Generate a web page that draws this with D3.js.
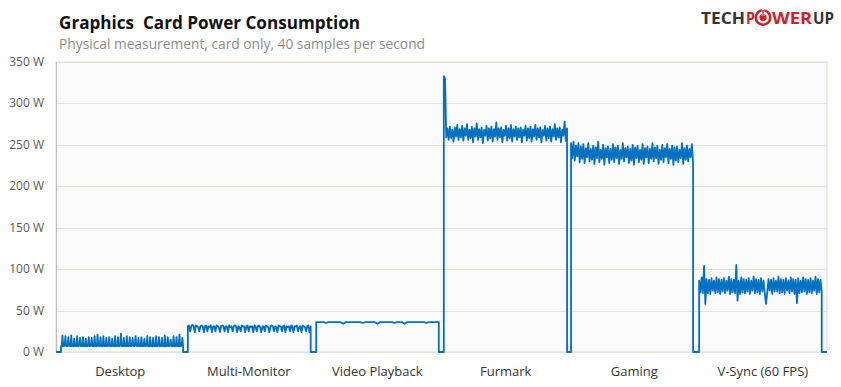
<!DOCTYPE html>
<html><head><meta charset="utf-8">
<script src="https://cdn.jsdelivr.net/npm/d3@7"></script>
<style>
html,body{margin:0;padding:0;background:#fff;}
svg{display:block;}
text{font-family:"Open Sans","Noto Sans",sans-serif;}
</style></head>
<body>
<svg id="chart" width="841" height="387"></svg>
<script>
// ---------- data ----------
const categories = ["Desktop","Multi-Monitor","Video Playback","Furmark","Gaming","V-Sync (60 FPS)"];
const yTicks = [0,50,100,150,200,250,300,350];
// measurement window of each test, in seconds within a 100 s slot
const testStart = [3.9, 2.6, 2.5, 1.8, 0.8, 0.5];
const testEnd   = [98.9, 98.2, 97.9, 97.7, 95.8, 95.9];

const desktopW = [7,7,20,7, 7,8,19,7, 7,7,18,8, 7,7,20,7, 8,7,16,7, 7,7,19,7, 7,8,17,7, 7,7,18,7, 8,7,16,7, 7,7,18,7,
                  7,8,17,7, 7,7,19,7, 7,7,21,8, 7,7,18,7, 8,7,19,7, 7,7,17,7, 7,8,18,7, 7,7,16,7, 8,7,19,7, 7,7,18,7,
                  7,8,22,7, 7,7,17,7, 8,7,19,7, 7,7,18,7, 7,8,17,7, 7,7,19,8, 7,7,17,7, 8,7,18,7, 7,7,16,7, 7,8,19,7,
                  7,7,18,7, 8,7,17,7, 7,7,19,7, 7,8,18,7, 7,7,17,7, 8,7,20,7, 7,7,18,7, 7,8,15,7, 7,7,19,7, 8,7,18,7,
                  7,7,21,7, 7,8,17,7];
const multiMonW = [31,32,25,31,33,31,24,32,31,30,25,31,32,31,24,31,32,25,31,30,32,24,31,31,25,32,31,30,24,31,32,31,25,31,31,24,32,30,31,25,31,32,31,24,31,30,25,32,31,31,24,31,32,25,31,30,31,24,32,31,25,31,32,30,24,31,31,25,32,31,30,24,31,32,31,25,31,30,24,32,31,31,25,31,32,24,31,30,31,25,32,31,24,31,31,32,25,30,31,24,32,31,30,25,31,32,24,31];
const videoW = [36,36,36,36,35,36,36,36,36,36,36,34,36,36,36,36,36,36,36,35,36,36,36,36,36,34,36,36,36,36,36,36,35,36,36,36,34,36,36,36,36,36,36,36,36,35,36,36,36,36,36];
const furmarkW = [333,330,259,270,256,272,258,268,254,271,260,274,256,269,259,273,255,270,261,275,256,268,258,272,253,270,260,276,256,269,259,271,252,268,261,273,255,270,258,272,254,269,260,277,256,270,259,271,253,268,261,273,255,270,258,274,254,269,260,272,256,270,259,271,253,268,261,273,255,270,258,272,254,269,260,274,256,270,259,271,253,268,261,273,255,270,258,272,254,269,260,275,256,270,259,271,253,268,261,278,255,270];
const gamingW = [252,234,254,231,249,236,252,229,248,233,251,228,246,235,252,230,245,232,249,227,247,234,254,229,244,233,250,226,246,235,248,228,245,232,251,229,247,234,249,227,244,233,252,230,246,235,248,228,245,231,250,226,247,234,249,229,244,232,251,227,246,235,248,228,245,233,252,230,247,234,249,227,244,232,250,229,246,235,251,228,245,233,249,226,247,231,248,229,244,234,252,227,246,232,249,230,245,235,251,228];
const vsyncW = [86,72,90,71,104,58,88,71,87,70,89,74,86,71,90,72,88,70,87,73,89,71,86,74,91,70,88,72,87,71,105,62,86,70,90,72,88,71,87,73,89,70,86,74,91,71,88,72,87,70,89,73,86,71,58,72,88,74,87,70,89,73,86,73,91,71,88,72,87,70,89,74,86,71,90,73,88,70,87,59,89,71,86,72,90,73,88,70,87,72,89,71,86,74,91,70,88,72,87,73];
const seriesW = [desktopW, multiMonW, videoW, furmarkW, gamingW, vsyncW];

// ---------- layout ----------
const svg = d3.select("#chart");
const L = 56, R = 827, T = 62, B = 352;
const blue = "#0070c0";

const x = d3.scaleBand().domain(categories).range([L, R]).paddingInner(0).paddingOuter(0);
const y = d3.scaleLinear().domain([0, 350]).range([B, T]);
const tWithin = d3.scaleLinear().domain([0, 100]).range([0, x.bandwidth()]);

// plot background
svg.append("rect").attr("x", L).attr("y", T).attr("width", R - L).attr("height", B - T)
  .attr("fill", "#fafafa").attr("stroke", "#e2ddcc").attr("stroke-width", 1);

// grid
svg.append("g").selectAll("line").data(yTicks).join("line")
  .attr("x1", L).attr("x2", R)
  .attr("y1", d => Math.round(y(d)) + 0.5).attr("y2", d => Math.round(y(d)) + 0.5)
  .attr("stroke", "#e6e1d2").attr("stroke-width", 1);

// left axis line
svg.append("line").attr("x1", L + 0.5).attr("x2", L + 0.5).attr("y1", T).attr("y2", B + 1)
  .attr("stroke", "#bdbdbd");

// y labels
svg.append("g").selectAll("text").data(yTicks).join("text")
  .attr("x", 44).attr("y", d => y(d) + 4)
  .attr("text-anchor", "end").attr("font-size", 12).attr("fill", "#595959")
  .text(d => d + " W");

// x labels
svg.append("g").selectAll("text").data(categories).join("text")
  .attr("x", d => x(d) + x.bandwidth() / 2).attr("y", 376)
  .attr("text-anchor", "middle").attr("font-size", 13).attr("fill", "#333")
  .text(d => d);

// build line points
const pts = [];
pts.push([L, 0]);
categories.forEach((c, i) => {
  const vals = seriesW[i];
  const s = x(c) + tWithin(testStart[i]);
  const e = x(c) + tWithin(testEnd[i]);
  const xi = d3.scaleLinear().domain([0, vals.length - 1]).range([s, e]);
  pts.push([s, 0]);
  vals.forEach((v, k) => pts.push([xi(k), v]));
  pts.push([e, 0]);
});
pts.push([R, 0]);

const line = d3.line().x(d => d[0]).y(d => y(d[1]));
svg.append("path").attr("d", line(pts))
  .attr("fill", "none").attr("stroke", blue).attr("stroke-width", 1.8).attr("stroke-linejoin", "round");

// title
svg.append("text").attr("x", 59).attr("y", 29).attr("font-size", 18).attr("font-weight", "bold")
  .attr("fill", "#111").attr("textLength", 301).attr("lengthAdjust", "spacingAndGlyphs")
  .attr("style", "white-space:pre")
  .text("Graphics  Card Power Consumption");
svg.append("text").attr("x", 59).attr("y", 49).attr("font-size", 14)
  .attr("fill", "#8c8c8c").attr("textLength", 366).attr("lengthAdjust", "spacingAndGlyphs")
  .text("Physical measurement, card only, 40 samples per second");

// logo
const logo = svg.append("g");
logo.append("text").attr("x", 701).attr("y", 23.5).attr("font-size", 15.5).attr("font-weight", "bold")
  .attr("fill", "#333").attr("textLength", 44).attr("lengthAdjust", "spacingAndGlyphs").text("TECH");
logo.append("text").attr("x", 746).attr("y", 23.5).attr("font-size", 15.5).attr("font-weight", "bold")
  .attr("fill", "#d32027").attr("textLength", 9).attr("lengthAdjust", "spacingAndGlyphs").text("P");
logo.append("circle").attr("cx", 763).attr("cy", 17.5).attr("r", 7.2)
  .attr("fill", "none").attr("stroke", "#d32027").attr("stroke-width", 2.6);
logo.append("circle").attr("cx", 763).attr("cy", 17.5).attr("r", 3.6).attr("fill", "#d32027");
logo.append("line").attr("x1", 763).attr("x2", 763).attr("y1", 9).attr("y2", 16)
  .attr("stroke", "#fff").attr("stroke-width", 2.6);
logo.append("line").attr("x1", 763).attr("x2", 763).attr("y1", 10).attr("y2", 16)
  .attr("stroke", "#d32027").attr("stroke-width", 1.4);
logo.append("text").attr("x", 772).attr("y", 23.5).attr("font-size", 15.5).attr("font-weight", "bold")
  .attr("fill", "#d32027").attr("textLength", 40).attr("lengthAdjust", "spacingAndGlyphs").text("WER");
logo.append("text").attr("x", 813).attr("y", 23.5).attr("font-size", 15.5).attr("font-weight", "bold")
  .attr("fill", "#333").attr("textLength", 21).attr("lengthAdjust", "spacingAndGlyphs").text("UP");
</script>
</body></html>
